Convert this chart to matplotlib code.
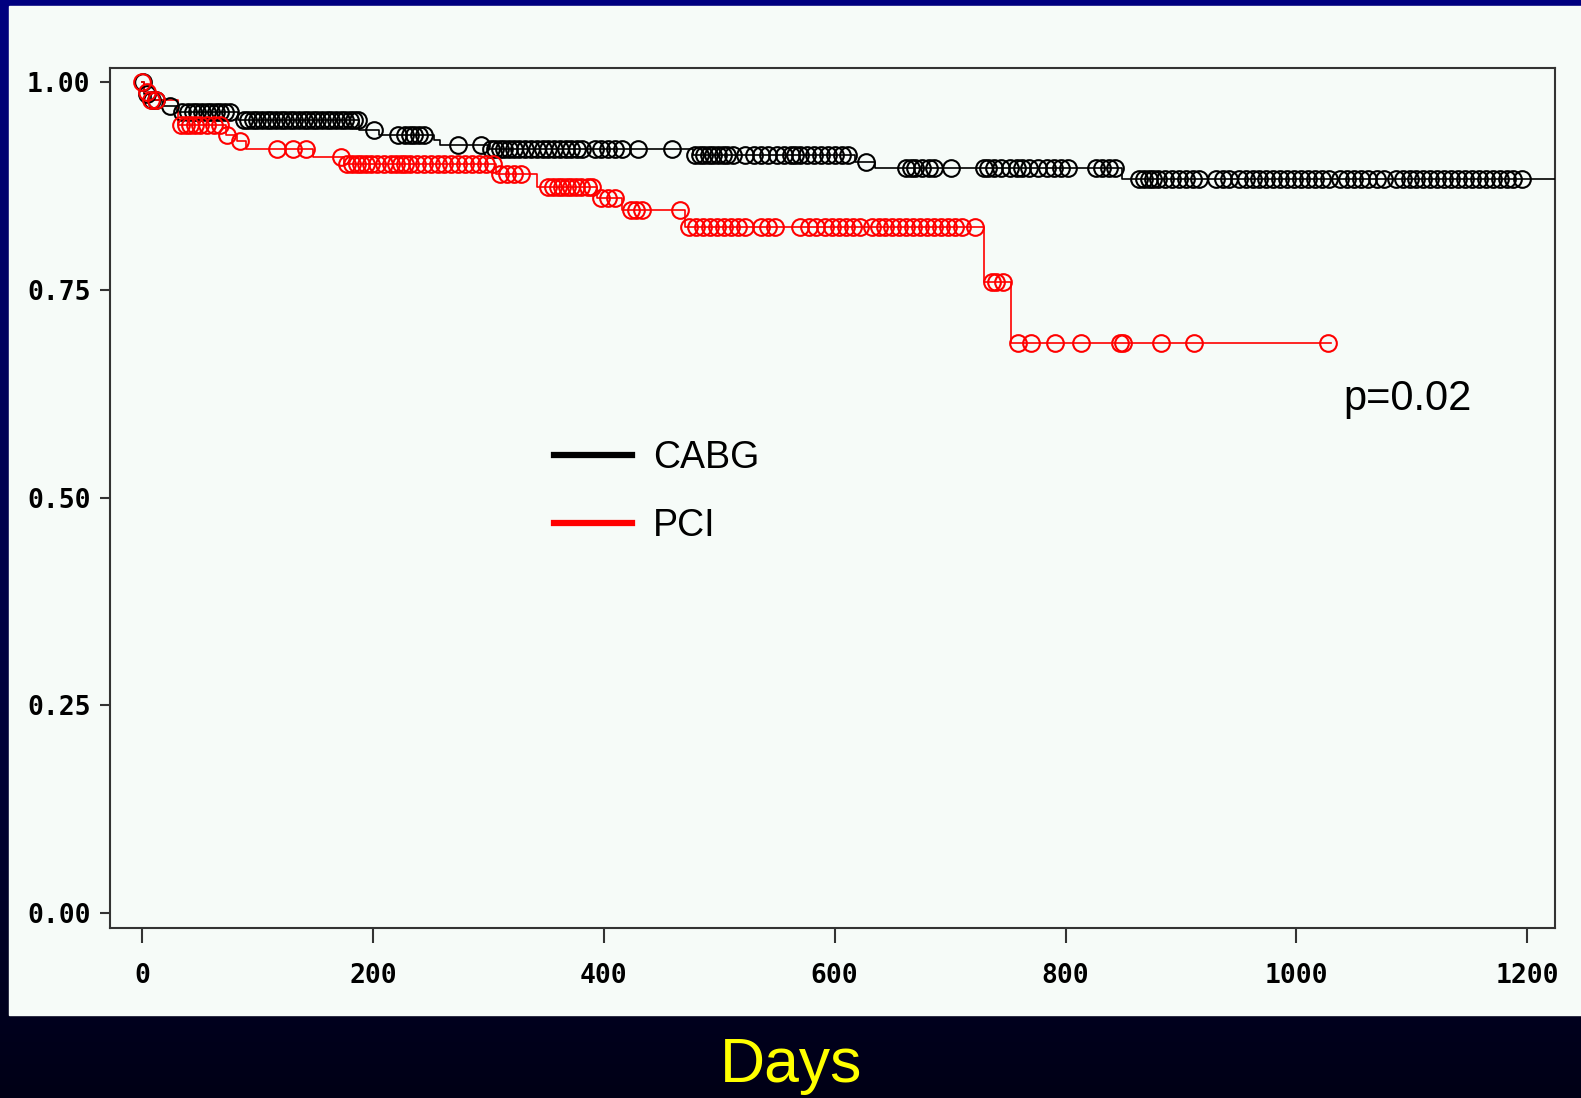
import numpy as np
import matplotlib
matplotlib.use("Agg")
import matplotlib.pyplot as plt
from matplotlib.lines import Line2D
from matplotlib.patches import Rectangle
from matplotlib.ticker import FormatStrFormatter

# Kaplan-Meier steps (day, survival after the step)
cabg_t = [0, 2, 8, 18, 30, 83, 188, 205, 253, 258, 300, 477, 618, 635, 849, 1235]
cabg_s = [1.0, 0.986, 0.978, 0.971, 0.964, 0.955, 0.942, 0.936, 0.930, 0.924,
          0.919, 0.912, 0.904, 0.897, 0.884, 0.884]
pci_t = [0, 2, 6, 31, 73, 82, 90, 148, 175, 307, 342, 394, 416, 470, 729, 753, 1030]
pci_s = [1.0, 0.988, 0.979, 0.948, 0.936, 0.929, 0.919, 0.910, 0.901, 0.889,
         0.874, 0.861, 0.846, 0.826, 0.760, 0.686, 0.686]

# censored observations (days)
cabg_cens = [1, 4, 9, 12, 24, 35, 40, 44, 48, 52, 56, 60, 64, 68, 72, 76,
             88, 92, 96, 100, 104, 108, 112, 116, 120, 124, 128, 132, 136, 140,
             144, 148, 152, 156, 160, 164, 168, 172, 176, 180, 184, 187, 201,
             222, 228, 232, 236, 240, 244, 274, 294,
             302, 306, 310, 314, 318, 322, 327, 332, 337, 342, 347, 352, 357,
             362, 367, 372, 377, 381, 392, 398, 404, 410, 416, 430, 459,
             479, 483, 487, 491, 495, 499, 503, 507, 512, 522, 530, 536, 542,
             550, 556, 562, 566, 570, 576, 582, 588, 594, 600, 606, 612, 627,
             662, 666, 670, 676, 682, 686, 701, 729, 733, 738, 744, 752, 758,
             762, 768, 776, 784, 790, 796, 802, 826, 832, 838, 843,
             864, 868, 872, 876, 880, 886, 892, 898, 904, 910, 916, 930, 936,
             942, 950, 956, 962, 968, 974, 980, 986, 992, 998, 1004, 1010, 1016,
             1022, 1028, 1038, 1044, 1050, 1056, 1062, 1070, 1076, 1086, 1092,
             1098, 1104, 1110, 1116, 1122, 1128, 1134, 1140, 1146, 1152, 1158,
             1164, 1170, 1176, 1182, 1188, 1195]
pci_cens = [0, 4, 8, 12, 34, 38, 42, 46, 50, 56, 62, 68, 74, 85, 117, 131, 142,
            172, 178, 182, 186, 190, 194, 198, 204, 210, 216, 220, 224, 228, 232,
            238, 244, 250, 256, 262, 268, 274, 280, 286, 292, 298, 304,
            310, 316, 322, 328, 352, 356, 360, 364, 368, 372, 376, 380, 386, 390,
            398, 404, 410, 424, 428, 433, 466,
            474, 480, 486, 492, 498, 504, 510, 516, 522, 536, 542, 548, 570, 578,
            584, 592, 598, 604, 610, 616, 622, 632, 638, 644, 650, 656, 662, 668,
            674, 680, 686, 692, 698, 704, 710, 722,
            736, 740, 746, 759, 770, 791, 813, 847, 850, 883, 911, 1027]

xticks = [0, 200, 400, 600, 800, 1000, 1200]
yticks = [0.0, 0.25, 0.5, 0.75, 1.0]

W, H = 1581, 1098
fig = plt.figure(figsize=(W / 100, H / 100), dpi=100)

# slide background: vertical navy gradient
bg = fig.add_axes([0, 0, 1, 1], zorder=-10)
grad = np.linspace(0, 1, 256)[:, None]
top = np.array([0, 0, 128]) / 255
bot = np.array([0, 0, 22]) / 255
img = top[None, None, :] * (1 - grad[:, :, None]) + bot[None, None, :] * grad[:, :, None]
bg.imshow(img, aspect="auto", extent=[0, 1, 0, 1])
bg.axis("off")
bg.add_patch(Rectangle((9 / W, (H - 1015) / H), 1, (1015 - 6) / H,
                       transform=bg.transAxes, color="#f6fbf8", zorder=2))

ax = fig.add_axes([110 / W, (H - 928) / H, (1555 - 110) / W, (928 - 68) / H])
ax.set_facecolor("none")


def km_value(t_steps, s_steps, days):
    idx = np.searchsorted(t_steps, days, side="right") - 1
    return np.array(s_steps)[idx]


for t, s, cens, col in [(cabg_t, cabg_s, cabg_cens, "black"),
                        (pci_t, pci_s, pci_cens, "#ff0000")]:
    ax.step(t, s, where="post", color=col, lw=1.2, zorder=3)
    ax.plot(cens, km_value(t, s, cens), ls="none", marker="o", ms=12,
            mfc="none", mec=col, mew=1.5, zorder=4)

ax.set_xlim(-27.7, 1224)
ax.set_ylim(-0.018, 1.017)
ax.set_xticks(xticks)
ax.set_yticks(yticks)
ax.yaxis.set_major_formatter(FormatStrFormatter("%.2f"))

for sp in ax.spines.values():
    sp.set_color("#333333")
    sp.set_linewidth(1.5)
ax.tick_params(axis="x", length=11, width=1.5, color="#333333", pad=14)
ax.tick_params(axis="y", length=7, width=1.5, color="#333333", pad=7)
for lab in ax.get_xticklabels() + ax.get_yticklabels():
    lab.set_fontfamily("DejaVu Sans Mono")
    lab.set_fontweight("bold")
    lab.set_fontsize(19)

handles = [Line2D([], [], color="black", lw=4.5), Line2D([], [], color="#ff0000", lw=4.5)]
ax.legend(handles, ["CABG", "PCI"], loc="upper left", bbox_to_anchor=(0.307, 0.567),
          frameon=False, borderpad=0, borderaxespad=0, handlelength=2.1,
          handletextpad=0.55, labelspacing=0.85,
          prop={"family": "Liberation Sans", "size": 27})

ax.text(1041, 0.605, "p=0.02", fontsize=30, family="Liberation Sans",
        color="black", va="baseline", ha="left")

fig.text(791 / W, 16 / H, "Days", color="#ffff00", fontsize=45,
         family="Liberation Sans", ha="center", va="baseline")

fig.savefig("out.png", dpi=100)
